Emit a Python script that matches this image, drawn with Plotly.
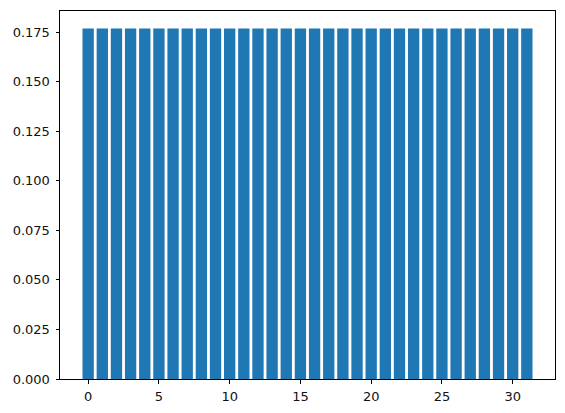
import plotly.graph_objects as go

# 32 bars, all the same height (~0.1768)
idx = list(range(32))
vals = [0.1768, 0.1768, 0.1768, 0.1768, 0.1768, 0.1768, 0.1768, 0.1768,
        0.1768, 0.1768, 0.1768, 0.1768, 0.1768, 0.1768, 0.1768, 0.1768,
        0.1768, 0.1768, 0.1768, 0.1768, 0.1768, 0.1768, 0.1768, 0.1768,
        0.1768, 0.1768, 0.1768, 0.1768, 0.1768, 0.1768, 0.1768, 0.1768]
xticks = [0, 5, 10, 15, 20, 25, 30]
yticks = [0.0, 0.025, 0.05, 0.075, 0.1, 0.125, 0.15, 0.175]

fig = go.Figure()
fig.add_bar(x=idx, y=vals, width=0.8, marker=dict(color="#1f77b4", line=dict(width=0)))

# page body has an 8px margin, so the figure is sized/offset to compensate
axis_common = dict(showline=True, linecolor="black", linewidth=1, mirror=True,
                   ticks="outside", ticklen=3.5, tickcolor="black", showgrid=False,
                   zeroline=False, tickfont=dict(size=13, color="#111"))
fig.update_layout(
    width=557, height=405,
    margin=dict(l=51.5, r=10, t=2.5, b=34, autoexpand=False),
    plot_bgcolor="white", paper_bgcolor="white",
    font=dict(family="DejaVu Sans"),
    showlegend=False,
    xaxis=dict(range=[-1.99, 32.99], tickvals=xticks, ticklabelstandoff=2, **axis_common),
    yaxis=dict(range=[0, 0.18564], tickvals=yticks, tickformat=".3f",
               ticklabelstandoff=3, **axis_common),
)
fig.write_html("out.html")
